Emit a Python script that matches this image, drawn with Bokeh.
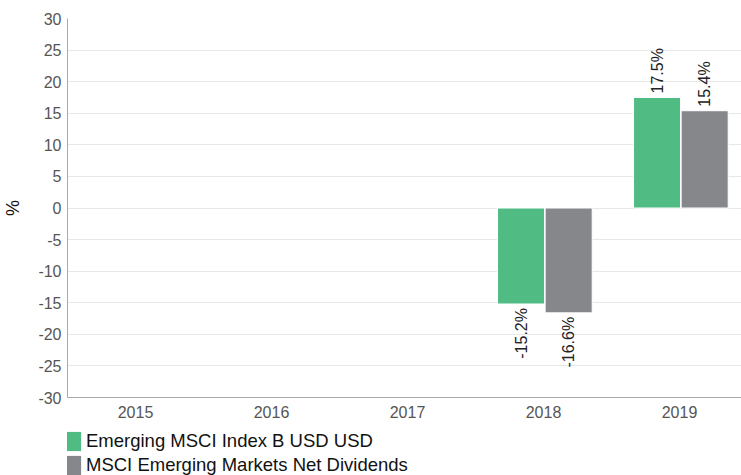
import math
from bokeh.plotting import figure
from bokeh.layouts import column
from bokeh.models import (ColumnDataSource, Range1d, FixedTicker, Legend, LegendItem)
from bokeh.core.properties import value
from bokeh.embed import file_html
from bokeh.resources import INLINE

years = ["2015", "2016", "2017", "2018", "2019"]
series_names = ["Emerging MSCI Index B USD USD", "MSCI Emerging Markets Net Dividends"]
fund = [None, None, None, -15.2, 17.5]
index = [None, None, None, -16.6, 15.4]
colors = ["#50BC84", "#86878B"]
y_ticks = [-30, -25, -20, -15, -10, -5, 0, 5, 10, 15, 20, 25, 30]

FONT = "Liberation Sans"

p = figure(width=741, height=422, output_backend="svg", toolbar_location=None,
           x_range=Range1d(0, (741 - 67) / 136.0), y_range=Range1d(-30, 30),
           min_border_left=67, min_border_right=0, min_border_top=18, min_border_bottom=25)
p.outline_line_color = None
p.background_fill_color = "white"

offsets = [-0.165, 0.185]
bw = 0.346
for s, (vals, col, off) in enumerate(zip([fund, index], colors, offsets)):
    xs, tops, labels = [], [], []
    for i, v in enumerate(vals):
        if v is None:
            continue
        xs.append(i + 0.5 + off)
        tops.append(v)
        labels.append(f"{v:.1f}%")
    src = ColumnDataSource(dict(x=xs, top=tops, label=labels))
    p.vbar(x="x", top="top", bottom=0, width=bw, source=src,
           fill_color=col, line_color="white", line_width=1)
    pos = ColumnDataSource(dict(x=[x for x, t in zip(xs, tops) if t >= 0],
                                y=[t for t in tops if t >= 0],
                                label=[l for l, t in zip(labels, tops) if t >= 0]))
    neg = ColumnDataSource(dict(x=[x for x, t in zip(xs, tops) if t < 0],
                                y=[t for t in tops if t < 0],
                                label=[l for l, t in zip(labels, tops) if t < 0]))
    p.text(x="x", y="y", text="label", source=pos, angle=math.pi / 2,
           text_align="left", text_baseline="middle", y_offset=-4,
           text_font=value(FONT), text_font_size="16px", text_color="#222222")
    p.text(x="x", y="y", text="label", source=neg, angle=math.pi / 2,
           text_align="right", text_baseline="middle", y_offset=4,
           text_font=value(FONT), text_font_size="16px", text_color="#222222")

# axes
p.xaxis.ticker = FixedTicker(ticks=[i + 0.5 for i in range(len(years))])
p.xaxis.major_label_overrides = {i + 0.5: y for i, y in enumerate(years)}
p.yaxis.ticker = FixedTicker(ticks=y_ticks)
p.yaxis.major_label_overrides = {t: str(t) for t in y_ticks}
for ax in (p.xaxis[0], p.yaxis[0]):
    ax.major_tick_line_color = None
    ax.minor_tick_line_color = None
    ax.major_tick_out = 0
    ax.major_tick_in = 0
    ax.minor_tick_out = 0
    ax.minor_tick_in = 0
    ax.major_label_text_font = FONT
    ax.major_label_text_font_size = "16px"
    ax.major_label_text_color = "#555555"
    ax.axis_line_color = "#aaaaaa"
p.xaxis.major_label_standoff = 8
p.yaxis.major_label_standoff = 6
p.yaxis.axis_label = "%"
p.yaxis.axis_label_text_font = FONT
p.yaxis.axis_label_text_font_size = "18px"
p.yaxis.axis_label_text_font_style = "normal"
p.yaxis.axis_label_text_color = "#111111"
p.yaxis.axis_label_standoff = 12

p.xgrid.grid_line_color = None
p.ygrid.grid_line_color = "#e8e8e8"
p.ygrid.ticker = FixedTicker(ticks=y_ticks)

# legend strip
lg = figure(width=741, height=53, output_backend="svg", toolbar_location=None,
            x_range=Range1d(0, 1), y_range=Range1d(0, 1),
            min_border=0, x_axis_type=None, y_axis_type=None)
lg.outline_line_color = None
lg.xgrid.visible = False
lg.ygrid.visible = False
leg_renderers = []
for col in colors:
    leg_renderers.append(lg.vbar(x=[-20], top=[21], bottom=[20], width=0.1,
                                 fill_color=col, line_color=None))
legend = Legend(items=[LegendItem(label=n, renderers=[r]) for n, r in zip(series_names, leg_renderers)],
                location=(-8, -2), orientation="vertical",
                glyph_width=24, glyph_height=24, label_width=10, label_height=24,
                spacing=0, padding=0, margin=0, label_standoff=3,
                label_text_font=FONT, label_text_font_size="18.5px", label_text_color="#111111",
                border_line_color=None, background_fill_alpha=0)
lg.add_layout(legend, "center")

layout = column(p, lg, spacing=0)
open("out.html", "w").write(file_html(layout, INLINE))
